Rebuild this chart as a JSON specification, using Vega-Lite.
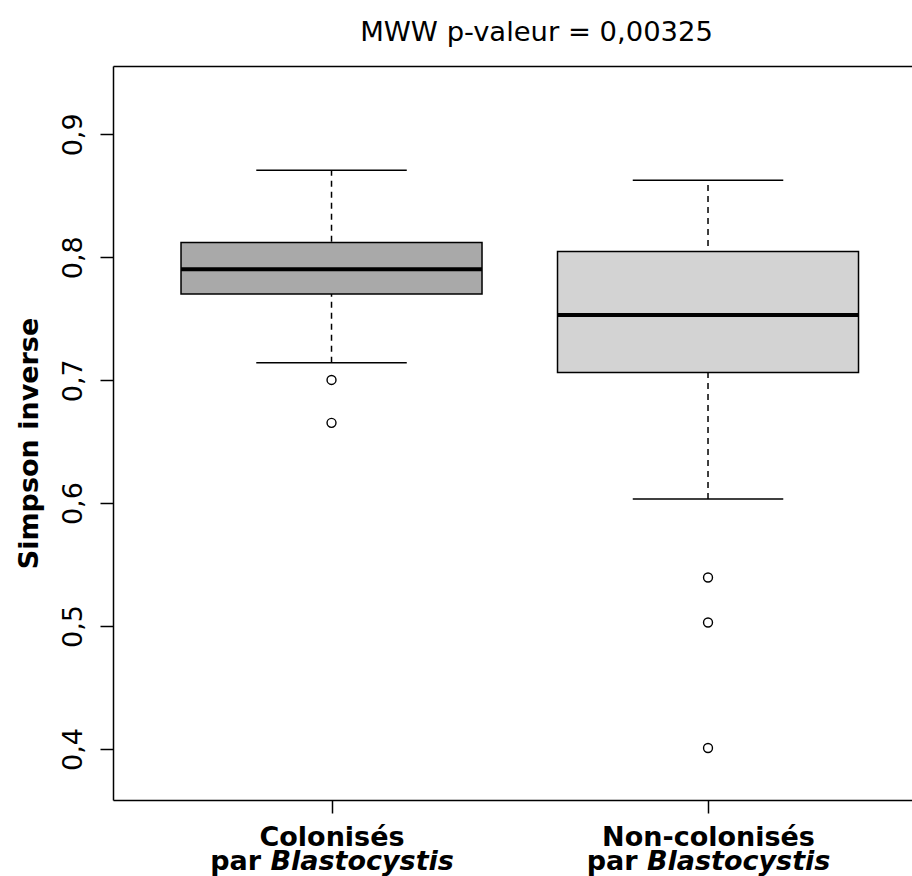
{
  "$schema": "https://vega.github.io/schema/vega-lite/v6.json",
  "autosize": {"type": "none"},
  "padding": {"left": 113, "top": 66, "right": 0, "bottom": 76},
  "width": 799,
  "height": 734,
  "background": "white",
  "config": {
    "view": {"stroke": null},
    "font": "DejaVu Sans",
    "axis": {"grid": false, "domainColor": "black", "tickColor": "black", "labelColor": "black", "titleColor": "black", "domainWidth": 1.5, "tickWidth": 1.5, "labelLimit": 0},
    "axisY": {"titleFont": "DejaVu Sans", "titleFontSize": 27, "titleFontWeight": "bold", "titleAngle": 270, "titleBaseline": "alphabetic", "titleX": -76, "titleY": 377, "titleAlign": "center", "labelAngle": 270, "labelAlign": "center", "labelBaseline": "alphabetic", "labelFont": "DejaVu Sans", "labelFontSize": 27, "tickSize": 13, "labelPadding": 19}
  },
  "title": {
    "text": "MWW p-valeur = 0,00325",
    "font": "DejaVu Sans",
    "fontSize": 27.4,
    "fontWeight": "normal",
    "color": "black",
    "anchor": "middle",
    "frame": "group",
    "baseline": "alphabetic",
    "offset": -2,
    "dx": 24
  },
  "datasets": {
    "boxes": [
      {"group": "Colonisés", "lower": 0.7141, "q1": 0.7702, "median": 0.7902, "q3": 0.8120, "upper": 0.8707},
      {"group": "Non-colonisés", "lower": 0.6033, "q1": 0.7063, "median": 0.7531, "q3": 0.8046, "upper": 0.8626}
    ],
    "outliers": [
      {"group": "Colonisés", "value": 0.7002},
      {"group": "Colonisés", "value": 0.6653},
      {"group": "Non-colonisés", "value": 0.5395},
      {"group": "Non-colonisés", "value": 0.5029},
      {"group": "Non-colonisés", "value": 0.4008}
    ]
  },
  "resolve": {"axis": {"x": "independent"}},
  "layer": [
    {
      "data": {"name": "boxes"},
      "mark": {"type": "rule", "strokeDash": [6, 5], "strokeWidth": 1.5, "color": "black", "opacity": 1},
      "encoding": {
        "x": {
          "field": "group", "type": "nominal", "sort": ["Colonisés", "Non-colonisés"],
          "scale": {"type": "point", "padding": 0.5611, "align": 0.5172},
          "axis": {"orient": "bottom", "title": null, "labelAngle": 0, "labelFont": "DejaVu Sans", "labelFontSize": 27, "labelFontWeight": "bold", "labelAlign": "center", "labelBaseline": "alphabetic", "tickSize": 13, "labelPadding": 32.5, "domain": true, "ticks": true}
        },
        "y": {
          "field": "lower", "type": "quantitative",
          "scale": {"domain": [0.3585, 0.9556], "nice": false, "zero": false},
          "axis": {"title": "Simpson inverse", "values": [0.4, 0.5, 0.6, 0.7, 0.8, 0.9], "labelExpr": "replace(format(datum.value, '.1f'), '.', ',')"}
        },
        "y2": {"field": "upper"}
      }
    },
    {
      "data": {"name": "boxes"},
      "mark": {"type": "tick", "size": 150.5, "thickness": 1.5, "color": "black", "orient": "horizontal", "opacity": 1},
      "encoding": {
        "x": {
          "field": "group", "type": "nominal", "sort": ["Colonisés", "Non-colonisés"],
          "scale": {"type": "point", "padding": 0.5611, "align": 0.5172},
          "axis": {"orient": "bottom", "title": null, "labelExpr": "'par'", "labelAngle": 0, "labelFont": "DejaVu Sans", "labelFontSize": 27, "labelFontWeight": "bold", "labelAlign": "right", "labelBaseline": "alphabetic", "labelOffset": -71, "ticks": false, "tickSize": 0, "domain": false, "labelPadding": 69.5}
        },
        "y": {"field": "upper", "type": "quantitative", "axis": {"title": "Simpson inverse", "values": [0.4, 0.5, 0.6, 0.7, 0.8, 0.9], "labelExpr": "replace(format(datum.value, '.1f'), '.', ',')"}}
      }
    },
    {
      "data": {"name": "boxes"},
      "mark": {"type": "tick", "size": 150.5, "thickness": 1.5, "color": "black", "orient": "horizontal", "opacity": 1},
      "encoding": {
        "x": {
          "field": "group", "type": "nominal", "sort": ["Colonisés", "Non-colonisés"],
          "scale": {"type": "point", "padding": 0.5611, "align": 0.5172},
          "axis": {"orient": "bottom", "title": null, "labelExpr": "'Blastocystis'", "labelAngle": 0, "labelFont": "DejaVu Sans", "labelFontSize": 27, "labelFontWeight": "bold", "labelFontStyle": "italic", "labelAlign": "left", "labelBaseline": "alphabetic", "labelOffset": -61.6, "ticks": false, "tickSize": 0, "domain": false, "labelPadding": 69.5}
        },
        "y": {"field": "lower", "type": "quantitative", "axis": {"title": "Simpson inverse", "values": [0.4, 0.5, 0.6, 0.7, 0.8, 0.9], "labelExpr": "replace(format(datum.value, '.1f'), '.', ',')"}}
      }
    },
    {
      "data": {"name": "boxes"},
      "mark": {"type": "bar", "width": 301, "stroke": "black", "strokeWidth": 1.5, "opacity": 1},
      "encoding": {
        "x": {
          "field": "group", "type": "nominal", "sort": ["Colonisés", "Non-colonisés"],
          "scale": {"type": "point", "padding": 0.5611, "align": 0.5172},
          "axis": {"orient": "top", "title": null, "labels": false, "ticks": false, "tickSize": 0, "domain": true}
        },
        "y": {"field": "q1", "type": "quantitative", "axis": {"title": "Simpson inverse", "values": [0.4, 0.5, 0.6, 0.7, 0.8, 0.9], "labelExpr": "replace(format(datum.value, '.1f'), '.', ',')"}},
        "y2": {"field": "q3"},
        "color": {"field": "group", "type": "nominal", "scale": {"domain": ["Colonisés", "Non-colonisés"], "range": ["#A9A9A9", "#D3D3D3"]}, "legend": null}
      }
    },
    {
      "data": {"name": "boxes"},
      "mark": {"type": "tick", "size": 301, "thickness": 4, "color": "black", "orient": "horizontal", "opacity": 1},
      "encoding": {
        "x": {
          "field": "group", "type": "nominal", "sort": ["Colonisés", "Non-colonisés"],
          "scale": {"type": "point", "padding": 0.5611, "align": 0.5172},
          "axis": null
        },
        "y": {"field": "median", "type": "quantitative", "axis": {"title": "Simpson inverse", "values": [0.4, 0.5, 0.6, 0.7, 0.8, 0.9], "labelExpr": "replace(format(datum.value, '.1f'), '.', ',')"}}
      }
    },
    {
      "data": {"name": "outliers"},
      "mark": {"type": "point", "shape": "circle", "size": 80, "filled": false, "color": "black", "strokeWidth": 1.4, "opacity": 1},
      "encoding": {
        "x": {
          "field": "group", "type": "nominal", "sort": ["Colonisés", "Non-colonisés"],
          "scale": {"type": "point", "padding": 0.5611, "align": 0.5172},
          "axis": null
        },
        "y": {"field": "value", "type": "quantitative", "axis": {"title": "Simpson inverse", "values": [0.4, 0.5, 0.6, 0.7, 0.8, 0.9], "labelExpr": "replace(format(datum.value, '.1f'), '.', ',')"}}
      }
    }
  ]
}
